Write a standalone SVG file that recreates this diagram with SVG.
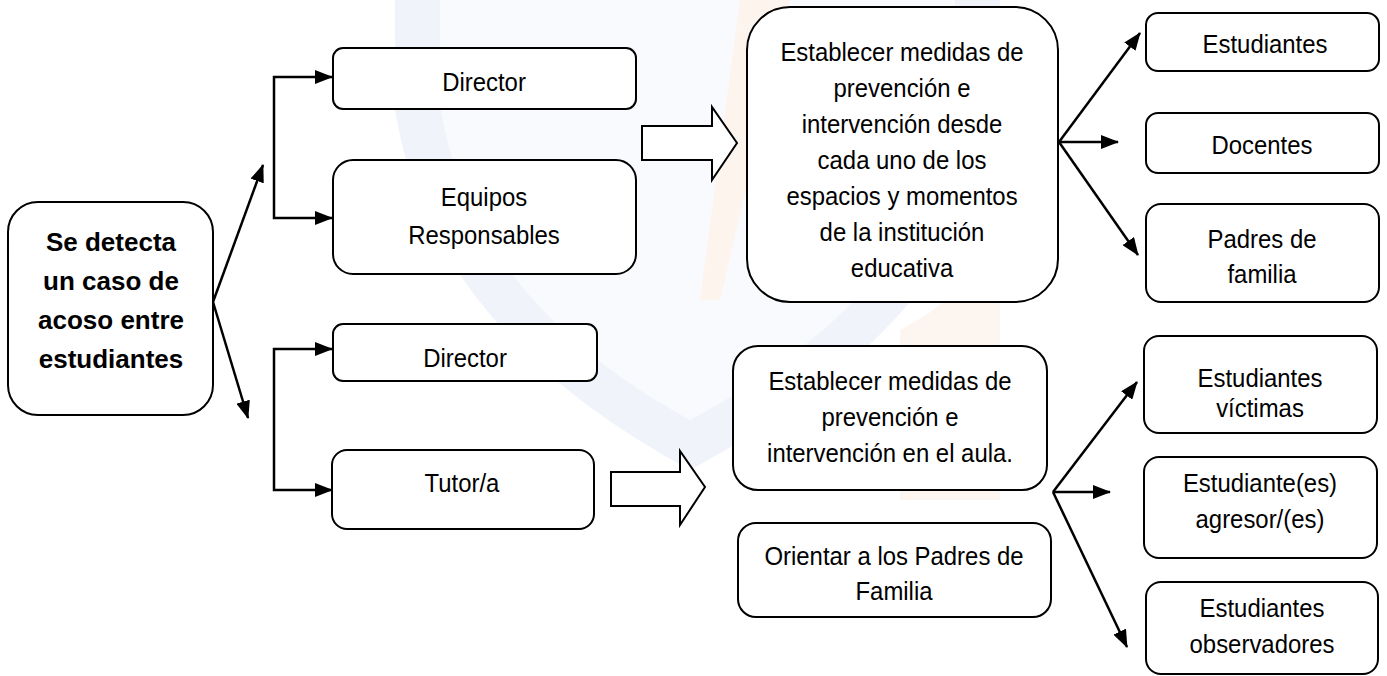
<svg xmlns="http://www.w3.org/2000/svg" width="1387" height="676" viewBox="0 0 1387 676">
<defs>
<style>
.box{fill:#fff;stroke:#000;stroke-width:2}
.t{font-family:"Liberation Sans",Arial,sans-serif;font-size:26px;fill:#000;text-anchor:middle}
.b{font-family:"Liberation Sans",Arial,sans-serif;font-size:26px;font-weight:bold;fill:#000;text-anchor:middle}
.c{fill:none;stroke:#000;stroke-width:2.5}
.blk{fill:#fff;stroke:#000;stroke-width:2;stroke-linejoin:miter}
</style>
<marker id="ah" markerUnits="userSpaceOnUse" markerWidth="18" markerHeight="14" refX="17" refY="7" orient="auto-start-reverse">
<path d="M0,0 L18,7 L0,14 Z" fill="#000"/>
</marker>
</defs>
<rect width="1387" height="676" fill="#fff"/>
<g id="watermark" opacity="0.7">
<path d="M395 0 L1000 0 L1000 110 Q970 320 690 470 Q430 330 395 110 Z" fill="#eaf0f9"/>
<path d="M440 0 L955 0 L955 105 Q930 290 690 420 Q470 300 440 105 Z" fill="#f6f8fd"/>
<path d="M740 0 L790 0 L720 300 L700 300 Z" fill="#fdf0e6"/>
<path d="M900 330 Q960 300 1000 240 L1000 500 L900 500 Z" fill="#fdf2ea"/>
</g>
<g id="connectors">
<path class="c" d="M213 302 L263 165" marker-end="url(#ah)"/>
<path class="c" d="M213 302 L248 418" marker-end="url(#ah)"/>
<path class="c" d="M332 77 H274 V218 H332" marker-start="url(#ah)" marker-end="url(#ah)"/>
<path class="c" d="M332 349 H274 V490 H332" marker-start="url(#ah)" marker-end="url(#ah)"/>
<path class="blk" d="M642 126 H712 V107 L737 143 L712 180 V160 H642 Z"/>
<path class="blk" d="M611 472 H680 V451 L705 487 L680 525 V506 H611 Z"/>
<path class="c" d="M1059 142 L1140 33" marker-end="url(#ah)"/>
<path class="c" d="M1059 142 L1118 142" marker-end="url(#ah)"/>
<path class="c" d="M1059 142 L1138 255" marker-end="url(#ah)"/>
<path class="c" d="M1053 492 L1137 382" marker-end="url(#ah)"/>
<path class="c" d="M1053 492 L1110 492" marker-end="url(#ah)"/>
<path class="c" d="M1053 492 L1127 647" marker-end="url(#ah)"/>
</g>
<g id="start">
<rect class="box" x="8" y="202" width="205" height="213" rx="30"/>
<text class="b" x="111" y="251">Se detecta</text>
<text class="b" x="111" y="290">un caso de</text>
<text class="b" x="111" y="329">acoso entre</text>
<text class="b" x="111" y="368">estudiantes</text>
</g>
<g id="director1">
<rect class="box" x="333" y="48" width="303" height="61" rx="10"/>
<g transform="matrix(0.92 0 0 1 484 0)"><text class="t" x="0" y="91">Director</text></g>
</g>
<g id="equipos">
<rect class="box" x="333" y="160" width="303" height="114" rx="20"/>
<g transform="matrix(0.92 0 0 1 484 0)">
<text class="t" x="0" y="206">Equipos</text>
<text class="t" x="0" y="244">Responsables</text>
</g>
</g>
<g id="director2">
<rect class="box" x="333" y="324" width="264" height="57" rx="10"/>
<g transform="matrix(0.92 0 0 1 465 0)"><text class="t" x="0" y="367">Director</text></g>
</g>
<g id="tutor">
<rect class="box" x="332" y="450" width="262" height="79" rx="15"/>
<g transform="matrix(0.92 0 0 1 462 0)"><text class="t" x="0" y="492">Tutor/a</text></g>
</g>
<g id="medidas1">
<rect class="box" x="747" y="7" width="311" height="295" rx="43"/>
<g transform="matrix(0.92 0 0 1 902 0)">
<text class="t" x="0" y="61">Establecer medidas de</text>
<text class="t" x="0" y="97">prevención e</text>
<text class="t" x="0" y="133">intervención desde</text>
<text class="t" x="0" y="169">cada uno de los</text>
<text class="t" x="0" y="205">espacios y momentos</text>
<text class="t" x="0" y="241">de la institución</text>
<text class="t" x="0" y="277">educativa</text>
</g>
</g>
<g id="medidas2">
<rect class="box" x="733" y="346" width="314" height="144" rx="25"/>
<g transform="matrix(0.92 0 0 1 890 0)">
<text class="t" x="0" y="390">Establecer medidas de</text>
<text class="t" x="0" y="426">prevención e</text>
<text class="t" x="0" y="462">intervención en el aula.</text>
</g>
</g>
<g id="orientar">
<rect class="box" x="738" y="523" width="313" height="94" rx="18"/>
<g transform="matrix(0.92 0 0 1 894 0)">
<text class="t" x="0" y="565">Orientar a los Padres de</text>
<text class="t" x="0" y="600">Familia</text>
</g>
</g>
<g id="estudiantes">
<rect class="box" x="1146" y="13" width="233" height="58" rx="12"/>
<g transform="matrix(0.92 0 0 1 1265 0)"><text class="t" x="0" y="53">Estudiantes</text></g>
</g>
<g id="docentes">
<rect class="box" x="1146" y="113" width="233" height="60" rx="12"/>
<g transform="matrix(0.92 0 0 1 1262 0)"><text class="t" x="0" y="154">Docentes</text></g>
</g>
<g id="padres">
<rect class="box" x="1146" y="204" width="233" height="98" rx="15"/>
<g transform="matrix(0.92 0 0 1 1262 0)">
<text class="t" x="0" y="248">Padres de</text>
<text class="t" x="0" y="283">familia</text>
</g>
</g>
<g id="victimas">
<rect class="box" x="1144" y="336" width="233" height="97" rx="15"/>
<g transform="matrix(0.92 0 0 1 1260 0)">
<text class="t" x="0" y="387">Estudiantes</text>
<text class="t" x="0" y="417">víctimas</text>
</g>
</g>
<g id="agresores">
<rect class="box" x="1144" y="457" width="233" height="101" rx="15"/>
<g transform="matrix(0.92 0 0 1 1260 0)">
<text class="t" x="0" y="492">Estudiante(es)</text>
<text class="t" x="0" y="528">agresor/(es)</text>
</g>
</g>
<g id="observadores">
<rect class="box" x="1146" y="582" width="232" height="92" rx="15"/>
<g transform="matrix(0.92 0 0 1 1262 0)">
<text class="t" x="0" y="617">Estudiantes</text>
<text class="t" x="0" y="653">observadores</text>
</g>
</g>
</svg>
